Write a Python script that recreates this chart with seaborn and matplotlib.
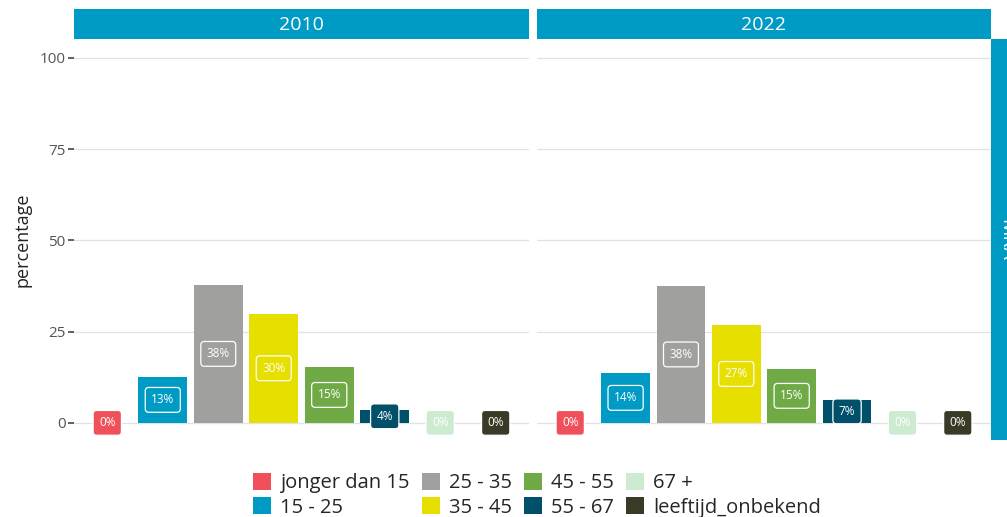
import matplotlib
matplotlib.use("Agg")
import matplotlib.pyplot as plt
from matplotlib.patches import Patch
import pandas as pd
import seaborn as sb

categories = ["jonger dan 15", "15 - 25", "25 - 35", "35 - 45",
              "45 - 55", "55 - 67", "67 +", "leeftijd_onbekend"]
colors = ["#F0505A", "#009BC4", "#A0A09E", "#E6DF00",
          "#6FAA46", "#00506A", "#CDEBD0", "#3A3A26"]
years = ["2010", "2022"]
values_2010 = [0.0, 12.6, 37.8, 29.9, 15.3, 3.6, 0.0, 0.0]
values_2022 = [0.0, 13.7, 37.5, 26.8, 14.8, 6.3, 0.0, 0.0]
labels_2010 = ["0%", "13%", "38%", "30%", "15%", "4%", "0%", "0%"]
labels_2022 = ["0%", "14%", "38%", "27%", "15%", "7%", "0%", "0%"]
region = "MRA"

strip_col = "#009BC4"
sb.set_style("white")
plt.rcParams['font.family'] = ['Open Sans', 'DejaVu Sans']

fig = plt.figure(figsize=(10.07, 5.17), dpi=100)

W, H = 1007, 517
def box(x0, y0, x1, y1):
    # pixel box (top-left origin) -> figure fraction
    return [x0 / W, 1 - y1 / H, (x1 - x0) / W, (y1 - y0) / H]

panels = [(74, 529), (537, 991)]
data = {"2010": (values_2010, labels_2010), "2022": (values_2022, labels_2022)}

for i, (yr, (x0, x1)) in enumerate(zip(years, panels)):
    ax = fig.add_axes(box(x0, 39, x1, 440))
    vals, labs = data[yr]
    df = pd.DataFrame({"cat": categories, "pct": vals})
    sb.barplot(data=df, x="cat", y="pct", hue="cat", order=categories,
               hue_order=categories, palette=colors, width=0.88,
               saturation=1, legend=False, ax=ax, linewidth=0, zorder=2)
    for j, (v, t) in enumerate(zip(vals, labs)):
        ax.text(j, v / 2, t, ha="center", va="center", color="white",
                fontsize=8.5, zorder=4,
                bbox=dict(boxstyle="round,pad=0.5,rounding_size=0.3",
                          fc=colors[j], ec="white", lw=0.9))
    ax.set_xlim(-0.6, 7.6)
    ax.set_ylim(-4.7, 105.2)
    ax.set_yticks([0, 25, 50, 75, 100])
    ax.yaxis.grid(True, color="#E2E2E2", lw=0.9, zorder=0)
    ax.xaxis.grid(False)
    ax.set_axisbelow(True)
    for s in ax.spines.values():
        s.set_visible(False)
    ax.set_xticks([])
    ax.set_xlabel("")
    if i == 0:
        ax.tick_params(axis="y", left=True, length=4, width=1.2, color="#444444",
                       labelsize=11, labelcolor="#555555", pad=2)
        ax.set_ylabel("percentage", fontsize=13, color="#222222", labelpad=6)
    else:
        ax.tick_params(axis="y", left=False, labelleft=False)
        ax.set_ylabel("")

    sax = fig.add_axes(box(x0, 9, x1, 39))
    sax.set_facecolor(strip_col)
    sax.set_xticks([]); sax.set_yticks([])
    for s in sax.spines.values():
        s.set_visible(False)
    sax.text(0.5, 0.47, yr, ha="center", va="center", color="white",
             fontsize=14, transform=sax.transAxes)

rax = fig.add_axes(box(991, 39, 1021, 440))
rax.set_facecolor(strip_col)
rax.set_xticks([]); rax.set_yticks([])
for s in rax.spines.values():
    s.set_visible(False)
rax.text(0.5, 0.5, region, ha="center", va="center", color="white",
         fontsize=14, rotation=-90, transform=rax.transAxes)

handles = [Patch(facecolor=c, edgecolor="none", label=l) for c, l in zip(colors, categories)]
fig.legend(handles=handles, ncol=4, loc="upper center",
           bbox_to_anchor=(537 / W, 1 - 463 / H), frameon=False,
           fontsize=14.5, handlelength=0.9, handleheight=0.9,
           handletextpad=0.45, columnspacing=0.6, labelspacing=0.2,
           borderpad=0)

fig.savefig("out.png", dpi=100)
